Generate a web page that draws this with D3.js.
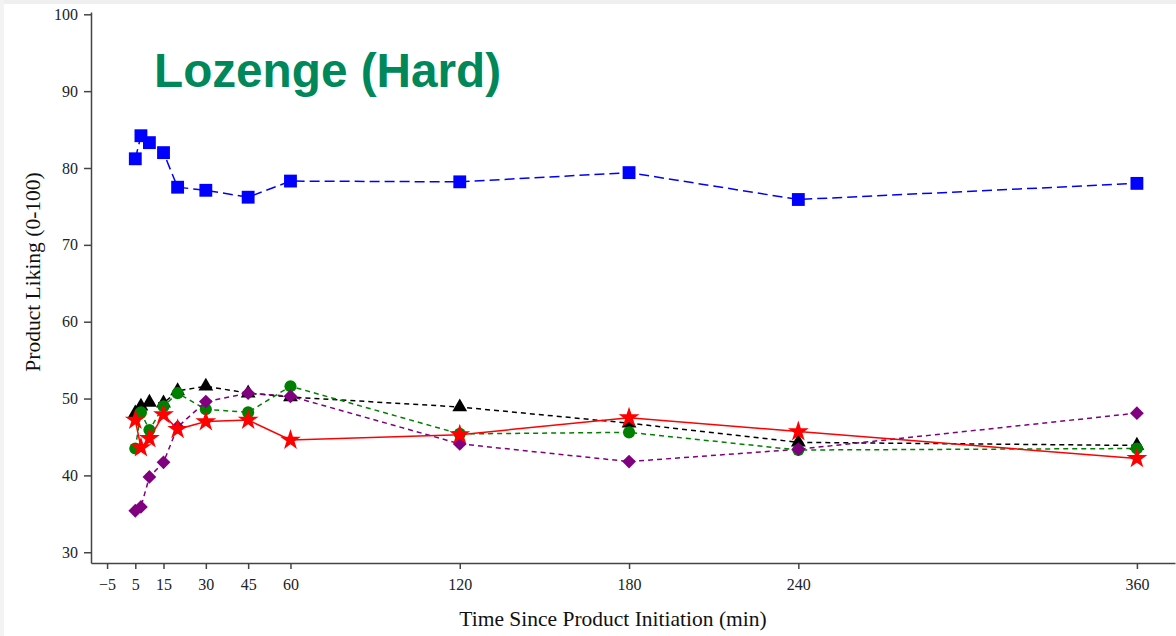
<!DOCTYPE html>
<html>
<head>
<meta charset="utf-8">
<script src="https://cdn.jsdelivr.net/npm/d3@7"></script>
<style>
  body { margin: 0; background: #fff; }
  svg { display: block; }
</style>
</head>
<body>
<svg width="1176" height="636"></svg>
<script>
// time points (min)
var times = [5, 7, 10, 15, 20, 30, 45, 60, 120, 180, 240, 360];
var xTicks = [-5, 5, 15, 30, 45, 60, 120, 180, 240, 360];
var yTicks = [30, 40, 50, 60, 70, 80, 90, 100];

// liking per series
var blueVals   = [81.2, 84.2, 83.3, 82.0, 77.5, 77.1, 76.2, 78.3, 78.2, 79.4, 75.9, 78.0];
var blackVals  = [48.1, 49.0, 49.5, 49.4, 51.0, 51.6, 50.7, 50.2, 48.9, 46.8, 44.3, 43.9];
var greenVals  = [43.5, 48.2, 45.9, 49.0, 50.7, 48.6, 48.2, 51.6, 45.4, 45.6, 43.3, 43.5];
var purpleVals = [35.4, 35.9, 39.8, 41.7, 46.3, 49.6, 50.7, 50.3, 44.1, 41.8, 43.4, 48.1];
var redVals    = [47.2, 43.6, 44.8, 47.9, 46.0, 47.0, 47.2, 44.6, 45.3, 47.5, 45.7, 42.2];

var series = [
  {name: "black",  vals: blackVals,  color: "#000000", dash: "5,4",  sym: d3.symbolTriangle, size: 95,  rot: 0},
  {name: "green",  vals: greenVals,  color: "#008000", dash: "5,4",  sym: d3.symbolCircle,   size: 115, rot: 0},
  {name: "purple", vals: purpleVals, color: "#800080", dash: "5,4",  sym: d3.symbolSquare,   size: 95,  rot: 45},
  {name: "red",    vals: redVals,    color: "#ff0000", dash: null,   sym: d3.symbolStar,     size: 135, rot: 0},
  {name: "blue",   vals: blueVals,   color: "#0000ff", dash: "10,5", sym: d3.symbolSquare,   size: 165, rot: 0}
];

var svg = d3.select("svg");

// faint frame like the screenshot edge
svg.append("rect").attr("x", 0).attr("y", 0).attr("width", 1176).attr("height", 4).attr("fill", "#efefef");
svg.append("rect").attr("x", 0).attr("y", 0).attr("width", 4).attr("height", 636).attr("fill", "#f3f3f3");

var x = d3.scaleLinear().domain([-10.7, 373.5]).range([91, 1175]);
var y = d3.scaleLinear().domain([28.6, 100.3]).range([563, 12]);

// axes
var xAxis = svg.append("g")
  .attr("transform", "translate(0,563)")
  .call(d3.axisBottom(x).tickValues(xTicks).tickSize(6).tickPadding(10).tickSizeOuter(0));
var yAxis = svg.append("g")
  .attr("transform", "translate(91,0)")
  .call(d3.axisLeft(y).tickValues(yTicks).tickSize(7).tickPadding(6).tickSizeOuter(0));

[xAxis, yAxis].forEach(function(a) {
  a.selectAll("path, line").attr("stroke", "#444").attr("stroke-width", 1.5);
  a.selectAll("text")
    .attr("fill", "#222")
    .style("font-family", "'Liberation Serif', 'Times New Roman', serif")
    .style("font-size", "16px");
});

// axis titles
svg.append("text")
  .attr("x", 613).attr("y", 626)
  .attr("text-anchor", "middle")
  .style("font-family", "'Liberation Serif', 'Times New Roman', serif")
  .style("font-size", "21.5px")
  .attr("fill", "#111")
  .text("Time Since Product Initiation (min)");

svg.append("text")
  .attr("transform", "translate(40,272) rotate(-90)")
  .attr("text-anchor", "middle")
  .style("font-family", "'Liberation Serif', 'Times New Roman', serif")
  .style("font-size", "21.5px")
  .attr("fill", "#111")
  .text("Product Liking (0-100)");

// chart title
svg.append("text")
  .attr("x", 154).attr("y", 87)
  .style("font-family", "'Liberation Sans', Arial, sans-serif")
  .style("font-weight", "bold")
  .style("font-size", "47.7px")
  .attr("fill", "#00875a")
  .text("Lozenge (Hard)");

var line = d3.line()
  .x(function(d) { return x(d.t); })
  .y(function(d) { return y(d.v); });

series.forEach(function(s) {
  var pts = times.map(function(t, i) { return {t: t, v: s.vals[i]}; });
  var g = svg.append("g").attr("class", "series-" + s.name);
  g.append("path")
    .datum(pts)
    .attr("d", line)
    .attr("fill", "none")
    .attr("stroke", s.color)
    .attr("stroke-width", 1.5)
    .attr("stroke-dasharray", s.dash);
  g.selectAll(".pt")
    .data(pts)
    .enter()
    .append("path")
    .attr("class", "pt")
    .attr("transform", function(d) {
      return "translate(" + x(d.t) + "," + y(d.v) + ") rotate(" + s.rot + ")";
    })
    .attr("d", d3.symbol().type(s.sym).size(s.size))
    .attr("fill", s.color);
});
</script>
</body>
</html>
